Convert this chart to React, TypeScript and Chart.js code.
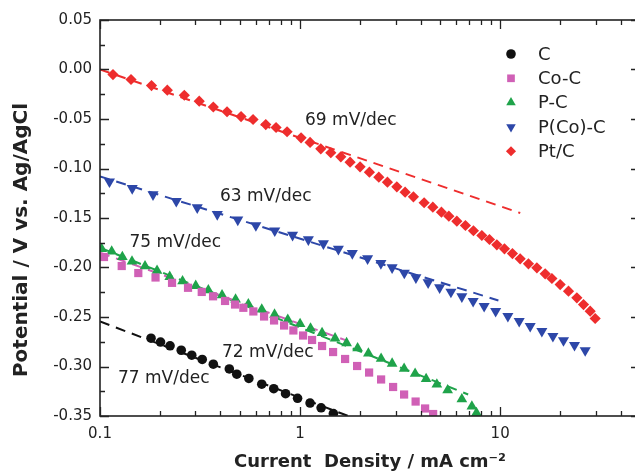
import React, { useEffect, useRef } from "react";
import { Chart, registerables } from "chart.js";

Chart.register(...registerables);

// ---------- data (current density mA cm^-2, potential V vs Ag/AgCl) ----------
const C_current = [0.1799, 0.2007, 0.2239, 0.2547, 0.2874, 0.3243, 0.3684, 0.443, 0.4827, 0.5546, 0.6434, 0.7386, 0.8463, 0.9716, 1.122, 1.274, 1.467];
const C_potential = [-0.2714, -0.2753, -0.2791, -0.2836, -0.2886, -0.2929, -0.2977, -0.3025, -0.3078, -0.3121, -0.3179, -0.3224, -0.3275, -0.3321, -0.3369, -0.3417, -0.3475];

const CoC_current = [0.1047, 0.1284, 0.1554, 0.1895, 0.2291, 0.2754, 0.3225, 0.3673, 0.4217, 0.4732, 0.5205, 0.5841, 0.6607, 0.7413, 0.8318, 0.9258, 1.035, 1.148, 1.288, 1.462, 1.679, 1.928, 2.213, 2.541, 2.917, 3.311, 3.78, 4.217, 4.624];
const CoC_potential = [-0.1894, -0.1985, -0.2056, -0.2101, -0.2155, -0.2205, -0.2247, -0.2291, -0.2338, -0.2374, -0.2407, -0.2444, -0.2495, -0.2535, -0.2586, -0.2636, -0.2687, -0.2732, -0.2793, -0.2854, -0.2924, -0.2995, -0.3061, -0.3131, -0.3207, -0.3283, -0.3354, -0.3424, -0.348];

const PC_current = [0.102, 0.1144, 0.1293, 0.1445, 0.1679, 0.1928, 0.2231, 0.2586, 0.301, 0.3479, 0.4074, 0.476, 0.5514, 0.6434, 0.7454, 0.868, 1.0, 1.128, 1.288, 1.496, 1.708, 1.939, 2.195, 2.541, 2.884, 3.311, 3.758, 4.266, 4.826, 5.464, 6.435, 7.222, 7.614];
const PC_potential = [-0.1813, -0.1838, -0.1894, -0.1939, -0.1987, -0.2033, -0.2094, -0.2138, -0.2185, -0.223, -0.228, -0.2323, -0.2371, -0.2424, -0.2475, -0.2528, -0.2569, -0.2616, -0.266, -0.2715, -0.2763, -0.2815, -0.2867, -0.2921, -0.297, -0.3022, -0.3073, -0.3126, -0.3182, -0.324, -0.333, -0.3404, -0.3468];

const PCoC_current = [0.1115, 0.1449, 0.1841, 0.2406, 0.3062, 0.3855, 0.4882, 0.6012, 0.7472, 0.9173, 1.1, 1.308, 1.554, 1.824, 2.175, 2.535, 2.884, 3.319, 3.793, 4.365, 4.983, 5.675, 6.435, 7.328, 8.318, 9.495, 10.93, 12.45, 14.13, 16.16, 18.35, 20.73, 23.53, 26.61];
const PCoC_potential = [-0.1133, -0.12, -0.1263, -0.133, -0.1394, -0.1462, -0.1518, -0.1574, -0.1628, -0.1672, -0.1717, -0.1758, -0.1813, -0.1856, -0.1909, -0.1957, -0.2, -0.2054, -0.2101, -0.2152, -0.2202, -0.2247, -0.2293, -0.234, -0.2391, -0.2441, -0.2492, -0.2542, -0.2593, -0.2643, -0.2694, -0.2737, -0.2785, -0.2838];

const PtC_current = [0.1161, 0.1429, 0.1809, 0.217, 0.2639, 0.3133, 0.3684, 0.4315, 0.507, 0.5821, 0.6738, 0.7586, 0.861, 1.0116, 1.122, 1.269, 1.424, 1.598, 1.778, 1.995, 2.221, 2.475, 2.733, 3.045, 3.35, 3.686, 4.169, 4.608, 5.088, 5.541, 6.075, 6.707, 7.354, 8.1, 8.842, 9.627, 10.51, 11.52, 12.59, 13.85, 15.26, 16.79, 18.14, 19.95, 21.96, 24.18, 26.1, 28.18, 29.85];
const PtC_potential = [-0.0051, -0.0101, -0.0162, -0.0209, -0.026, -0.032, -0.0379, -0.0427, -0.0475, -0.0505, -0.0556, -0.0586, -0.0629, -0.069, -0.0737, -0.0801, -0.0841, -0.0882, -0.0936, -0.0983, -0.1037, -0.1088, -0.1138, -0.1185, -0.1239, -0.1286, -0.1346, -0.1391, -0.1441, -0.1482, -0.1532, -0.1576, -0.1629, -0.1677, -0.1717, -0.1771, -0.1811, -0.1859, -0.1912, -0.1963, -0.2003, -0.2064, -0.2111, -0.2172, -0.2239, -0.2306, -0.2374, -0.2441, -0.2515];

// Tafel fit lines (endpoints)
const fitC_current = [0.1, 1.74];
const fitC_potential = [-0.2545, -0.35];
const fitCoC_current = [0.1, 1.7];
const fitCoC_potential = [-0.185, -0.2736];
const fitPC_current = [0.1, 6.92];
const fitPC_potential = [-0.18, -0.3283];
const fitPCoC_current = [0.1, 9.8];
const fitPCoC_potential = [-0.108, -0.2333];
const fitPtC_current = [0.1, 12.6];
const fitPtC_potential = [0.0, -0.145];

const seriesNames = ["C", "Co-C", "P-C", "P(Co)-C", "Pt/C"];
const slopeLabels = ["77 mV/dec", "72 mV/dec", "75 mV/dec", "63 mV/dec", "69 mV/dec"];
const slopeLabelCurrent = [0.123, 0.4074, 0.1404, 0.398, 1.059];
const slopeLabelPotential = [-0.3121, -0.2859, -0.1747, -0.1283, -0.0515];

const xTickValues = [0.1, 1, 10];
const yTickValues = [-0.35, -0.3, -0.25, -0.2, -0.15, -0.1, -0.05, 0.0, 0.05];

const xTitle = "Current  Density / mA cm\u207B\u00B2";
const yTitle = "Potential / V vs. Ag/AgCl";

const X_MIN = 0.1;
const X_MAX = 50;
const Y_MIN = -0.35;
const Y_MAX = 0.05;

// ---------- styles ----------
const COLORS = ["#111111", "#D060B6", "#1FA34A", "#2D47A8", "#EE2D2D"];
const POINT_STYLES: any[] = ["circle", "rect", "triangle", "triangle", "rectRot"];
const POINT_ROT = [0, 0, 0, 180, 0];
const POINT_RADIUS = [4.8, 5.8, 6.2, 6.4, 5.6];
const FONT = "'DejaVu Sans', 'Liberation Sans', Arial, sans-serif";
const TEXT = "#222222";

function pairs(xs: number[], ys: number[]) {
  return xs.map((x, i) => ({ x, y: ys[i] }));
}

function drawMarker(ctx: CanvasRenderingContext2D, style: string, rot: number, x: number, y: number, r: number) {
  ctx.beginPath();
  if (style === "circle") {
    ctx.arc(x, y, r, 0, Math.PI * 2);
  } else if (style === "rect") {
    const s = r * 0.8;
    ctx.rect(x - s, y - s, 2 * s, 2 * s);
  } else if (style === "rectRot") {
    const s = r * 1.05;
    ctx.moveTo(x - s, y);
    ctx.lineTo(x, y - s);
    ctx.lineTo(x + s, y);
    ctx.lineTo(x, y + s);
    ctx.closePath();
  } else {
    const s = r * 1.15;
    const dir = rot === 180 ? -1 : 1;
    ctx.moveTo(x, y - dir * s);
    ctx.lineTo(x + s * 0.866, y + dir * s * 0.5);
    ctx.lineTo(x - s * 0.866, y + dir * s * 0.5);
    ctx.closePath();
  }
  ctx.fill();
}

const framePlugin = {
  id: "frameTicksAnnotations",
  afterDatasetsDraw(chart: any) {
    const { ctx, chartArea } = chart;
    const { left, right, top, bottom } = chartArea;
    const xs = chart.scales.x;
    const ys = chart.scales.y;
    ctx.save();
    ctx.strokeStyle = "#222";
    ctx.lineWidth = 1.6;
    ctx.strokeRect(left, top, right - left, bottom - top);

    ctx.lineWidth = 1.3;
    ctx.beginPath();
    for (let d = -1; d <= 1; d++) {
      for (let m = 1; m <= 9; m++) {
        const v = m * Math.pow(10, d);
        if (v < X_MIN - 1e-9 || v > X_MAX + 1e-9) continue;
        const px = Math.round(xs.getPixelForValue(v)) + 0.5;
        const len = m === 1 ? 9 : 5;
        ctx.moveTo(px, bottom);
        ctx.lineTo(px, bottom - len);
        ctx.moveTo(px, top);
        ctx.lineTo(px, top + len);
      }
    }
    for (let i = 0; i <= 16; i++) {
      const v = Y_MIN + i * 0.025;
      const py = Math.round(ys.getPixelForValue(v)) + 0.5;
      const len = i % 2 === 0 ? 9 : 5;
      ctx.moveTo(left, py);
      ctx.lineTo(left + len, py);
      ctx.moveTo(right, py);
      ctx.lineTo(right - len, py);
    }
    ctx.stroke();

    // y-axis title
    ctx.save();
    ctx.translate(22, 240);
    ctx.rotate(-Math.PI / 2);
    ctx.fillStyle = TEXT;
    ctx.font = `bold 20px ${FONT}`;
    ctx.textAlign = "center";
    ctx.textBaseline = "middle";
    ctx.fillText(yTitle, 0, 0);
    ctx.restore();

    // slope annotations
    ctx.fillStyle = TEXT;
    ctx.font = `17px ${FONT}`;
    ctx.textAlign = "left";
    ctx.textBaseline = "middle";
    slopeLabels.forEach((t, i) => {
      ctx.fillText(t, xs.getPixelForValue(slopeLabelCurrent[i]), ys.getPixelForValue(slopeLabelPotential[i]));
    });

    // legend
    const lx = left + 411;
    const ly = top + 34;
    const step = 24.3;
    ctx.font = `18px ${FONT}`;
    seriesNames.forEach((name, i) => {
      const cy = ly + i * step;
      ctx.fillStyle = COLORS[i];
      drawMarker(ctx, POINT_STYLES[i], POINT_ROT[i], lx, cy, 4.8);
      ctx.fillStyle = TEXT;
      ctx.fillText(name, lx + 27, cy + 1);
    });
    ctx.restore();
  },
};

export default function App() {
  const ref = useRef<HTMLCanvasElement | null>(null);

  useEffect(() => {
    if (!ref.current) return;
    Chart.defaults.font.family = FONT;
    Chart.defaults.color = TEXT;

    const pointSets = [
      pairs(C_current, C_potential),
      pairs(CoC_current, CoC_potential),
      pairs(PC_current, PC_potential),
      pairs(PCoC_current, PCoC_potential),
      pairs(PtC_current, PtC_potential),
    ];
    const fitSets = [
      pairs(fitC_current, fitC_potential),
      pairs(fitCoC_current, fitCoC_potential),
      pairs(fitPC_current, fitPC_potential),
      pairs(fitPCoC_current, fitPCoC_potential),
      pairs(fitPtC_current, fitPtC_potential),
    ];

    const datasets: any[] = [];
    fitSets.forEach((d, i) => {
      datasets.push({
        label: seriesNames[i] + " fit",
        data: d,
        showLine: true,
        borderColor: COLORS[i],
        borderWidth: 2,
        borderDash: [10, 7],
        pointRadius: 0,
        order: 2,
      });
    });
    pointSets.forEach((d, i) => {
      datasets.push({
        label: seriesNames[i],
        data: d,
        showLine: false,
        pointStyle: POINT_STYLES[i],
        rotation: POINT_ROT[i],
        pointRadius: POINT_RADIUS[i],
        backgroundColor: COLORS[i],
        borderColor: COLORS[i],
        borderWidth: 0,
        order: 1,
      });
    });

    const chart = new Chart(ref.current, {
      type: "scatter",
      data: { datasets },
      options: {
        responsive: false,
        animation: false,
        devicePixelRatio: 1,
        layout: { padding: { top: 20, right: 20, left: 0, bottom: 0 } },
        plugins: { legend: { display: false }, tooltip: { enabled: false } },
        scales: {
          x: {
            type: "logarithmic",
            min: X_MIN,
            max: X_MAX,
            afterBuildTicks: (s: any) => {
              s.ticks = xTickValues.map((v) => ({ value: v }));
            },
            afterFit: (s: any) => {
              s.height = 57;
            },
            grid: { display: false, drawTicks: false },
            border: { display: false },
            ticks: {
              autoSkip: false,
              maxRotation: 0,
              padding: 9,
              color: TEXT,
              font: { size: 15, family: FONT },
              callback: (v: any) => String(Number(v)),
            },
            title: {
              display: true,
              text: xTitle,
              color: TEXT,
              font: { size: 18, weight: "bold", family: FONT },
              padding: { top: 0, bottom: 0 },
            },
          },
          y: {
            type: "linear",
            min: Y_MIN,
            max: Y_MAX,
            afterBuildTicks: (s: any) => {
              s.ticks = yTickValues.map((v) => ({ value: v }));
            },
            afterFit: (s: any) => {
              s.width = 100;
            },
            grid: { display: false, drawTicks: false },
            border: { display: false },
            ticks: {
              padding: 8,
              color: TEXT,
              font: { size: 15, family: FONT },
              callback: (v: any) => Number(v).toFixed(2),
            },
            title: { display: false },
          },
        },
      },
      plugins: [framePlugin],
    });
    return () => chart.destroy();
  }, []);

  return (
    <div
      style={{
        position: "absolute",
        left: 0,
        top: 0,
        width: 635,
        height: 473,
        overflow: "hidden",
        background: "#fff",
      }}
    >
      <canvas ref={ref} width={660} height={473} style={{ width: 660, height: 473, display: "block" }} />
    </div>
  );
}
